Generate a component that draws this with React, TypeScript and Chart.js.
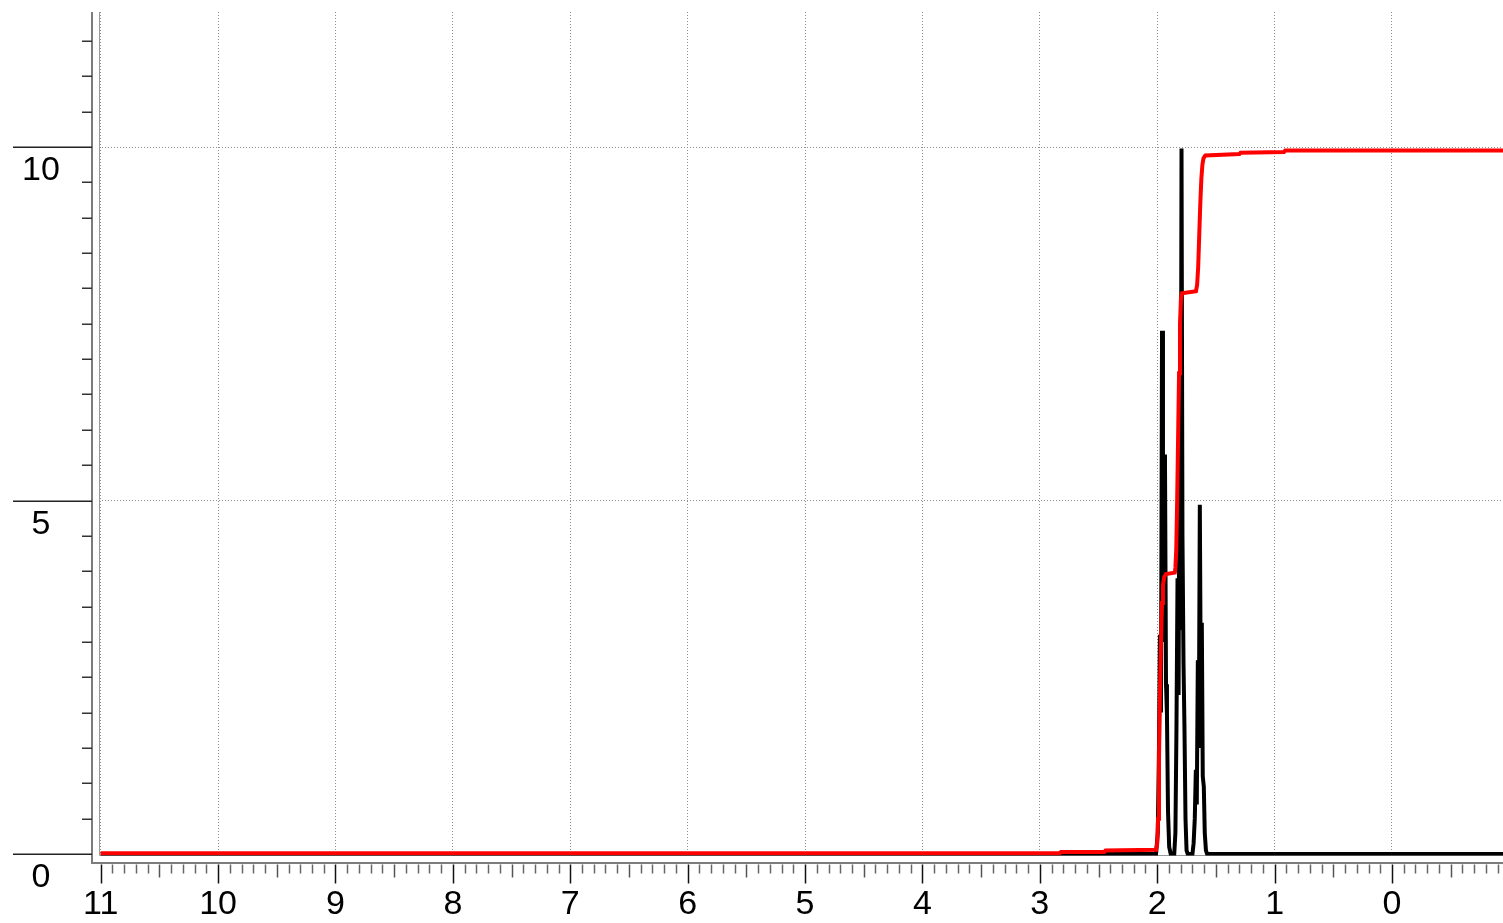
import React, { useEffect, useRef } from 'react';
import { Chart, registerables } from 'chart.js';

Chart.register(...registerables);

// ---- Data (ppm on x, intensity on y) ----
const specPpm = [
  11.0, 2.01, 1.995, 1.985, 1.977, 1.968, 1.959, 1.951, 1.942, 1.934, 1.925, 1.917, 1.908, 1.898, 1.885,
  1.855, 1.845, 1.836, 1.827, 1.818, 1.81, 1.801, 1.793, 1.785, 1.776, 1.768, 1.759, 1.75, 1.74,
  1.7, 1.69, 1.68, 1.671, 1.663, 1.654, 1.646, 1.637, 1.629, 1.62, 1.612, 1.603, 1.595, 1.585, 1.575,
  -0.95,
];
const specIntensity = [
  0, 0, 0.3, 1.5, 3.1, 2.0, 7.4, 3.0, 4.2, 5.65, 2.4, 1.97, 0.6, 0.1, 0,
  0, 0.3, 1.78, 3.9, 2.25, 6.5, 3.17, 9.98, 4.5, 2.7, 1.8, 0.5, 0.05, 0,
  0, 0.15, 0.5, 1.19, 0.7, 2.74, 1.5, 4.94, 2.4, 3.27, 1.1, 0.95, 0.3, 0.05, 0,
  0,
];

const integralPpm = [
  11.0, 2.83, 2.82, 2.45, 2.44, 2.01, 2.0, 1.993, 1.985, 1.977, 1.968, 1.959, 1.951, 1.94, 1.925,
  1.85, 1.845, 1.838, 1.83, 1.822, 1.814, 1.806, 1.798, 1.789, 1.67, 1.66, 1.651, 1.642, 1.633,
  1.624, 1.615, 1.606, 1.59, 1.3, 1.29, 0.92, 0.91, -0.95,
];
const integralValue = [
  0.01, 0.01, 0.03, 0.03, 0.05, 0.06, 0.15, 0.5, 1.3, 2.3, 3.0, 3.55, 3.8, 3.92, 3.96,
  3.98, 4.05, 4.3, 5.0, 5.9, 6.8, 7.5, 7.85, 7.93, 7.96, 8.05, 8.3, 8.75, 9.2,
  9.55, 9.75, 9.84, 9.88, 9.9, 9.92, 9.93, 9.95, 9.95,
];

const xTickValues = [11, 10, 9, 8, 7, 6, 5, 4, 3, 2, 1, 0];
const xTickLabels = ['11', '10', '9', '8', '7', '6', '5', '4', '3', '2', '1', '0'];
const yTickValues = [0, 5, 10];
const yTickLabels = ['0', '5', '10'];
const yGridValues = [5, 10];

const FONT = "34px 'Liberation Sans', Arial, sans-serif";

const axesPlugin = {
  id: 'offsetAxes',
  beforeDatasetsDraw(chart: any) {
    const { ctx, chartArea } = chart;
    ctx.save();
    ctx.strokeStyle = '#9a9a9a';
    ctx.lineWidth = 1;
    ctx.beginPath();
    ctx.moveTo(chartArea.left + 0.5, chartArea.top);
    ctx.lineTo(chartArea.left + 0.5, chartArea.bottom);
    ctx.lineTo(chartArea.right, chartArea.bottom);
    ctx.stroke();
    ctx.restore();
  },
  afterDraw(chart: any) {
    const { ctx, chartArea } = chart;
    const xs = chart.scales.x;
    const ys = chart.scales.y;
    const axisX = chartArea.left - 7;
    const axisY = chartArea.bottom + 7.5;
    ctx.save();
    // axis lines
    ctx.strokeStyle = '#7c7c7c';
    ctx.lineWidth = 2;
    ctx.beginPath();
    ctx.moveTo(axisX, chartArea.top);
    ctx.lineTo(axisX, axisY);
    ctx.lineTo(chartArea.right, axisY);
    ctx.stroke();

    // y minor ticks (every 0.5)
    ctx.lineWidth = 1.5;
    for (let i = 1; i <= 23; i++) {
      const v = i * 0.5;
      if (yTickValues.includes(v)) continue;
      const py = Math.round(ys.getPixelForValue(v)) + 0.25;
      ctx.strokeStyle = '#333';
      ctx.beginPath();
      ctx.moveTo(axisX - 10, py);
      ctx.lineTo(axisX, py);
      ctx.stroke();
    }
    // y major ticks and labels
    ctx.font = FONT;
    ctx.fillStyle = '#000';
    ctx.textAlign = 'center';
    ctx.textBaseline = 'middle';
    yTickValues.forEach((v, i) => {
      const py = Math.round(ys.getPixelForValue(v)) + 0.25;
      ctx.strokeStyle = '#222';
      ctx.beginPath();
      ctx.moveTo(13, py);
      ctx.lineTo(axisX, py);
      ctx.stroke();
      ctx.fillText(yTickLabels[i], 41, py + 23);
    });

    // x ticks every 0.1
    for (let i = -9; i <= 110; i++) {
      const v = i / 10;
      const px = Math.round(xs.getPixelForValue(v)) + 0.5;
      if (px < chartArea.left - 2 || px > chartArea.right) continue;
      let len = 9;
      let col = '#666';
      if (i % 10 === 0) {
        len = 19;
        col = '#111';
      } else if (i % 5 === 0) {
        len = 13;
        col = '#555';
      }
      ctx.strokeStyle = col;
      ctx.lineWidth = 1.5;
      ctx.beginPath();
      ctx.moveTo(px, axisY + 1.5);
      ctx.lineTo(px, axisY + 1.5 + len);
      ctx.stroke();
    }
    xTickValues.forEach((v, i) => {
      const px = xs.getPixelForValue(v);
      ctx.fillText(xTickLabels[i], px, 905);
    });
    ctx.restore();
  },
};

export default function App() {
  const canvasRef = useRef<HTMLCanvasElement | null>(null);

  useEffect(() => {
    const canvas = canvasRef.current;
    if (!canvas) return;
    const spectrum = specPpm.map((x, i) => ({ x, y: specIntensity[i] }));
    const integral = integralPpm.map((x, i) => ({ x, y: integralValue[i] }));
    const chart = new Chart(canvas, {
      type: 'line',
      data: {
        datasets: [
          {
            label: 'Integral',
            data: integral,
            borderColor: '#ff0000',
            borderWidth: 4,
            pointRadius: 0,
            tension: 0,
            fill: false,
          },
          {
            label: 'Spectrum',
            data: spectrum,
            borderColor: '#000000',
            borderWidth: 4,
            pointRadius: 0,
            tension: 0,
            fill: false,
          },
        ],
      },
      options: {
        animation: false,
        responsive: false,
        maintainAspectRatio: false,
        devicePixelRatio: 1,
        parsing: false as any,
        layout: { padding: { left: 99, top: 12, right: 0, bottom: 67.5 } },
        plugins: { legend: { display: false }, tooltip: { enabled: false } },
        events: [],
        scales: {
          x: {
            type: 'linear',
            reverse: true,
            min: -0.9456,
            max: 11.0145,
            afterBuildTicks: (scale: any) => {
              scale.ticks = xTickValues.map((v) => ({ value: v }));
            },
            ticks: { display: false },
            grid: { display: true, drawTicks: false, color: '#8f8f8f', lineWidth: 1 },
            border: { display: false, dash: [1, 2] },
          },
          y: {
            type: 'linear',
            min: -0.021,
            max: 11.91,
            afterBuildTicks: (scale: any) => {
              scale.ticks = yGridValues.map((v) => ({ value: v }));
            },
            ticks: { display: false },
            grid: { display: true, drawTicks: false, color: '#8f8f8f', lineWidth: 1 },
            border: { display: false, dash: [1, 2] },
          },
        },
      },
      plugins: [axesPlugin],
    });
    return () => chart.destroy();
  }, []);

  return (
    <div style={{ position: 'absolute', left: 0, top: 0, width: 1503, height: 923, background: '#fff' }}>
      <canvas ref={canvasRef} width={1503} height={923} style={{ display: 'block', width: 1503, height: 923 }} />
    </div>
  );
}
